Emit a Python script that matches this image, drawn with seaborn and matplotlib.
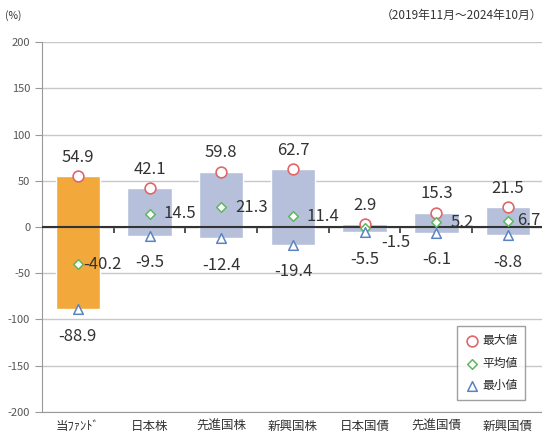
import matplotlib
matplotlib.use("Agg")
import matplotlib.pyplot as plt
import seaborn as sns
import pandas as pd
import numpy as np

# categories and values (%), 2019/11 - 2024/10
categories = ["当ﾌｧﾝﾄﾞ", "日本株", "先進国株", "新興国株", "日本国債", "先進国債", "新興国債"]
max_vals = [54.9, 42.1, 59.8, 62.7, 2.9, 15.3, 21.5]
mean_vals = [-40.2, 14.5, 21.3, 11.4, -1.5, 5.2, 6.7]
min_vals = [-88.9, -9.5, -12.4, -19.4, -5.5, -6.1, -8.8]

df = pd.DataFrame({"cat": categories, "max": max_vals, "mean": mean_vals, "min": min_vals})

sns.set_style("white")
plt.rcParams["font.family"] = ["Noto Sans CJK JP", "DejaVu Sans"]
plt.rcParams["axes.unicode_minus"] = False

fig = plt.figure(figsize=(5.42, 4.34), dpi=100)
ax = fig.add_axes([0.0775, 0.051, 0.926, 0.852])

x = np.arange(len(categories))
bar_colors = ["#F2A83A"] + ["#B6C0DA"] * (len(categories) - 1)
ax.bar(x, df["max"] - df["min"], bottom=df["min"], width=0.62, color=bar_colors, zorder=2)

sns.scatterplot(x=x, y=df["max"], ax=ax, marker="o", s=60, facecolor="white",
                edgecolor="#E0666A", linewidth=1.2, zorder=5, label="最大値")
sns.scatterplot(x=x, y=df["mean"], ax=ax, marker="D", s=24, facecolor="white",
                edgecolor="#5DB85F", linewidth=1.1, zorder=5, label="平均値")
sns.scatterplot(x=x, y=df["min"], ax=ax, marker="^", s=48, facecolor="white",
                edgecolor="#5B82C4", linewidth=1.1, zorder=5, label="最小値")

txt = "#333333"
mean_dx = [5, 14, 14, 14, 17, 14, 9]
mean_dy = [0, 0, 0, 0, -14, 0, 0]
for i in range(len(categories)):
    ax.annotate(f"{max_vals[i]:.1f}", (x[i], max_vals[i]), xytext=(0, 19),
                textcoords="offset pixels", ha="center", va="center", fontsize=12, color=txt)
    ax.annotate(f"{mean_vals[i]:.1f}", (x[i], mean_vals[i]), xytext=(mean_dx[i], mean_dy[i]),
                textcoords="offset pixels", ha="left", va="center", fontsize=12, color=txt)
    ax.annotate(f"{min_vals[i]:.1f}", (x[i], min_vals[i]), xytext=(0, -27),
                textcoords="offset pixels", ha="center", va="center", fontsize=12, color=txt)

ax.set_xlim(-0.5, len(categories) - 0.5)
ax.set_ylim(-200, 200)
ax.set_yticks(np.arange(-200, 201, 50))
ax.yaxis.grid(True, color="#C8C8C8", linewidth=1.0, zorder=0)
ax.set_axisbelow(True)
ax.set_xticks(x)
ax.set_xticklabels(categories, fontsize=9, color="#333333")
ax.tick_params(axis="x", length=0, pad=6)
ax.tick_params(axis="y", direction="out", length=5, color="#999999", labelsize=8,
               labelcolor="#555555", left=True)
for s in ["top", "right"]:
    ax.spines[s].set_visible(False)
ax.spines["left"].set_color("#999999")
ax.spines["bottom"].set_color("#999999")
ax.set_xlabel("")
ax.set_ylabel("")

# dark zero line drawn over the bars, with small ticks between categories
ax.axhline(0, color="#333333", linewidth=1.5, zorder=4)
zero = ax.secondary_xaxis(0.5)
zero.set_xticks(np.arange(0.5, len(categories) - 0.5, 1.0))
zero.set_xticklabels([])
zero.tick_params(direction="in", length=4, width=1.2, color="#333333")
zero.spines["bottom"].set_visible(False)

leg = ax.legend(loc="lower right", bbox_to_anchor=(0.975, 0.015), fontsize=8.5,
                frameon=True, fancybox=False, edgecolor="#888888",
                handletextpad=0.2, borderpad=0.7, labelspacing=0.8, handlelength=1.2)
leg.get_frame().set_linewidth(1.0)

fig.text(0.01, 0.965, "(%)", fontsize=7.5, color="#333333", va="center")
fig.text(1.0, 0.965, "（2019年11月～2024年10月）", fontsize=8.5, color="#333333",
         ha="right", va="center")

fig.savefig("out.png", dpi=100)
